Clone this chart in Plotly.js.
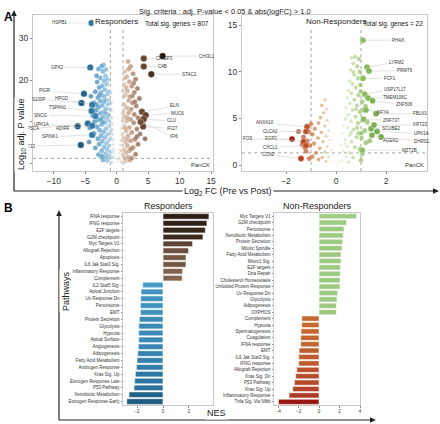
<!DOCTYPE html>
<html><head><meta charset="utf-8">
<script src="https://cdn.plot.ly/plotly-3.0.1.min.js"></script>
<style>html,body{margin:0;padding:0;background:#fff}#chart{width:440px;height:424px}</style>
</head><body><div id="chart"></div>
<script>
// ---------------- DATA ----------------
// Panel A – Responders volcano (log2FC, -log10 adj.P)
const respNS = [[-0.95,14.5],[-0.9,12.8],[-0.85,11.0],[-0.8,9.6],[-0.75,8.2],[-0.7,7.0],[-0.6,5.8],[-0.55,4.6],[-0.45,3.6],[-0.4,2.7],[-0.3,1.9],[-0.2,1.2],[-0.1,0.6],[0.0,0.2],[0.1,0.5],[0.2,1.0],[0.3,1.7],[0.4,2.5],[0.5,3.4],[0.6,4.5],[0.7,5.7],[0.8,7.0],[0.85,8.5],[0.9,10.2],[0.95,12.0],[0.98,14.0],[-0.92,6.2],[-0.7,3.0],[-0.5,1.5],[0.5,1.2],[0.75,3.2],[0.92,5.5],[-0.85,2.0],[0.88,2.2],[-1.5,0.8],[-2.2,0.9],[1.4,0.7],[2.1,0.9],[-0.97,17.0],[0.97,17.5],[-0.8,0.4],[0.7,0.5]];
const respDown = [[-2.1,23.6],[-2.4,23.3],[-2.9,22.6],[-2.2,22.1],[-1.8,21.0],[-2.6,20.5],[-2.0,19.8],[-3.1,19.5],[-1.6,19.0],[-2.3,18.6],[-2.8,18.2],[-1.9,17.7],[-3.4,17.2],[-2.5,17.0],[-1.5,16.6],[-2.1,16.1],[-3.0,15.8],[-1.8,15.3],[-2.6,15.0],[-3.6,14.6],[-1.4,14.2],[-2.3,13.9],[-2.9,13.5],[-1.7,13.1],[-3.3,12.8],[-2.0,12.5],[-2.6,12.1],[-1.3,11.8],[-3.8,11.5],[-2.2,11.2],[-1.6,10.8],[-2.9,10.5],[-3.5,10.1],[-1.9,9.8],[-2.4,9.4],[-1.2,9.1],[-3.1,8.8],[-4.3,8.6],[-1.7,8.4],[-2.7,8.0],[-2.1,7.6],[-3.6,7.3],[-1.4,7.0],[-2.5,6.7],[-1.9,6.3],[-3.0,6.0],[-1.2,5.7],[-2.3,5.4],[-1.6,5.0],[-2.8,4.7],[-1.3,4.3],[-2.0,4.0],[-3.4,3.8],[-1.5,3.4],[-2.4,3.1],[-1.1,2.8],[-1.8,2.4],[-2.9,2.2],[-1.3,1.9],[-1.6,1.6],[-2.2,1.5],[-1.1,1.4],[-3.9,13.3],[-4.1,16.1],[-3.2,21.0],[-4.4,5.2],[-2.4,1.9],[-1.2,15.2],[-1.1,13.0],[-1.3,17.3],[-1.5,20.2],[-1.2,10.2],[-1.0,7.8],[-1.4,11.5],[-1.7,22.5],[-2.7,16.4],[-3.2,14.1],[-2.2,9.9],[-3.7,12.4],[-2.0,14.8],[-1.8,12.0],[-2.5,10.6]];
const respUp = [[1.8,24.4],[2.2,23.2],[1.3,22.0],[2.6,21.5],[1.6,20.8],[3.0,20.2],[2.0,19.6],[1.2,19.0],[2.4,18.5],[3.3,18.0],[1.7,17.4],[2.8,17.0],[1.4,16.4],[2.1,16.0],[3.6,15.6],[1.9,15.1],[2.5,14.6],[1.2,14.2],[3.1,13.8],[1.6,13.4],[2.3,13.0],[4.0,12.6],[1.9,12.2],[2.8,11.8],[1.3,11.4],[3.4,11.0],[2.2,10.6],[1.6,10.2],[2.7,9.8],[4.2,9.5],[1.2,9.1],[2.0,8.7],[3.2,8.3],[1.5,7.9],[2.4,7.5],[3.7,7.1],[1.8,6.7],[1.1,6.3],[2.9,5.9],[2.2,5.5],[1.4,5.1],[3.4,4.7],[1.7,4.3],[2.6,3.9],[1.2,3.5],[2.0,3.1],[1.5,2.7],[3.0,2.3],[1.1,1.9],[1.8,1.6],[2.4,1.4],[1.3,1.3],[4.5,6.0],[3.9,10.6],[2.9,14.8],[1.1,12.5],[1.4,8.5],[1.15,16.0],[1.5,18.2],[2.5,16.2],[1.3,20.4],[1.9,22.6],[2.7,19.3],[1.0,10.8],[1.7,11.0],[2.3,3.6],[1.6,5.9],[3.2,6.5]];
const respGenes = ["HSPB1","GPX2","CHI3L1","CRISP3","C4B","STAC2","PIGR","S100P","HPGD","TSPAN1","SNCG","UPK1A","PSCA","ADIRF","SPINK1","KRT13","ELN","MUC6","CLU","IFI27","IFI6"];
const respGeneFC = [-4.0,-4.2,7.3,4.3,4.3,5.5,-5.2,-5.6,-3.9,-4.0,-3.4,-6.2,-4.6,-3.9,-3.9,-5.7,4.0,4.6,4.3,4.2,3.8];
const respGeneP  = [33.6,23.0,25.7,25.1,23.2,21.4,16.7,14.5,14.1,12.6,11.4,9.0,9.6,9.1,6.9,4.5,12.4,11.6,10.7,8.9,10.0];
const respTotal = 807;

// Panel A – Non-Responders volcano
const nonUp = [[0.63,11.5],[0.76,11.6],[0.92,11.4],[0.69,10.9],[0.85,10.6],[0.58,10.2],[0.95,10.0],[0.72,9.7],[0.88,9.3],[0.55,9.0],[0.66,8.7],[0.98,8.6],[0.79,8.3],[0.5,8.0],[0.62,7.7],[0.9,7.5],[0.45,7.2],[0.73,7.0],[1.05,6.8],[0.56,6.6],[0.84,6.4],[0.4,6.1],[0.66,5.9],[0.95,5.7],[0.5,5.4],[0.78,5.2],[0.35,4.9],[1.1,4.9],[0.6,4.7],[0.88,4.5],[0.3,4.2],[0.48,4.0],[0.7,3.8],[1.15,3.7],[0.25,3.4],[0.55,3.2],[0.82,3.0],[1.02,2.9],[0.38,2.7],[0.62,2.5],[0.2,2.2],[0.46,2.0],[0.75,1.9],[0.95,1.7],[0.3,1.5],[0.55,1.3],[0.15,1.1],[0.4,0.9],[0.68,0.8],[0.25,0.5],[0.1,0.3],[0.5,0.3],[1.05,1.2],[1.2,2.4],[1.0,0.5],[1.1,5.9],[0.99,7.9],[0.8,6.0],[0.6,3.5],[0.42,5.0],[0.9,3.4],[0.7,10.0],[0.85,4.0],[0.35,2.3],[0.96,15.2],[1.02,3.4],[1.25,4.6],[1.35,2.6],[1.18,6.3],[0.05,0.1],[0.15,0.4]];
const nonDown = [[-0.44,7.0],[-0.57,6.4],[-0.38,6.0],[-0.5,5.6],[-0.62,5.1],[-0.35,4.8],[-0.7,4.5],[-0.45,4.2],[-0.85,3.9],[-0.3,3.7],[-0.58,3.5],[-0.95,3.3],[-0.4,3.1],[-0.72,2.9],[-0.25,2.7],[-0.52,2.5],[-0.88,2.3],[-1.05,2.1],[-0.35,2.0],[-0.65,1.8],[-0.2,1.6],[-0.45,1.4],[-0.8,1.3],[-1.2,1.5],[-0.15,1.1],[-0.3,0.9],[-0.55,0.8],[-0.1,0.5],[-0.4,0.4],[-0.7,0.6],[-0.95,0.9],[-1.3,3.0],[-1.15,2.6],[-1.25,1.9],[-1.1,3.6],[-1.07,0.7],[-1.5,3.6],[-1.35,2.2],[-1.0,4.4],[-0.05,0.15]];
const nonGenes = ["PHAX","LYRM2","PRMT6","FCF1","USP17L17","TMEM106C","ZNF506","NFYA","FBLN1","ZNF737","SCUBE2","KRT23","UPK1A","AGER2","DHRS1","MZT2B","ANXA10","CLCA2","EGR1","FOS","CXCL1","CCN2"];
const nonGeneFC = [1.08,1.24,1.32,1.08,1.15,1.28,1.46,1.2,1.6,1.1,1.4,1.52,1.64,1.44,1.8,1.05,-1.16,-1.2,-1.3,-1.76,-1.2,-1.4];
const nonGeneP  = [13.4,10.5,10.1,9.3,7.6,7.2,6.9,5.9,5.5,4.9,3.9,4.3,3.6,3.2,3.0,1.6,4.1,3.6,2.5,2.8,2.1,0.7];
const nonTotal = 22;

// Panel B – GSEA hallmark NES
const respPathways = ["IFNA response","IFNG response","E2F targets","G2M checkpoint","Myc Targets V1","Allograft Rejection","Apoptosis","IL6 Jak Stat3 Sig.","Inflammatory Response","Complement","IL2 Stat5 Sig.","Apical Junction","Uv Response Dn","Peroxisome","EMT","Protein Secretion","Glycolysis","Hypoxia","Apical Surface","Angiogenesis","Adipogenesis","Fatty Acid Metabolism","Androgen Response","Kras Sig. Up","Estrogen Response Late","P53 Pathway","Xenobiotic Metabolism","Estrogen Response Early"];
const respNES = [3.54,3.38,3.26,3.08,2.28,1.97,1.77,1.77,1.51,1.48,-1.56,-1.69,-1.72,-1.74,-1.74,-1.82,-1.87,-1.87,-1.87,-1.9,-1.95,-2.0,-2.05,-2.13,-2.18,-2.23,-2.62,-2.79];
const nonPathways = ["Myc Targets V1","G2M checkpoint","Peroxisome","Xenobiotic Metabolism","Protein Secretion","Mitotic Spindle","Fatty Acid Metabolism","Mtorc1 Sig.","E2F targets","Dna Repair","Cholesterol Homeostasis","Unfolded Protein Response","Uv Response Dn","Glycolysis","Adipogenesis","OXPHOS","Complement","Hypoxia","Spermatogenesis","Coagulation","IFNA response","EMT","IL6 Jak Stat3 Sig.","IFNG response","Allograft Rejection","Kras Sig. Dn","P53 Pathway","Kras Sig. Up","Inflammatory Response","Tnfa Sig. Via Nfkb"];
const nonNES = [3.67,2.7,2.44,2.37,2.31,2.24,2.15,2.15,2.11,2.08,2.05,2.05,1.82,1.76,1.69,1.69,-1.69,-1.69,-1.76,-1.79,-1.79,-1.95,-1.98,-1.98,-2.18,-2.28,-2.41,-2.57,-2.93,-3.97];

// ---------------- STYLE (label offsets in px) ----------------
const respLabelOff = [[-32,0],[-33,0],[44,0],[21,0],[19,0],[38,0],[-39,-3],[-42,-4],[-30,-6],[-34,-4],[-54,-1],[-36,-2],[-55,5],[-29,3],[-42,2],[-53,1],[33,-6],[32,-2],[28,2],[29,2],[33,15]];
const nonLabelOff = [[35,0],[29,-5],[36,0],[27,0],[30,-5],[27,0],[32,4],[17,2],[44,0],[28,1],[20,0],[46,0],[44,2],[19,5],[41,4],[47,0],[-42,-4],[-36,0],[-32,-3],[-45,0],[-36,2],[-33,-4]];

const W=440,H=424, FONT='Liberation Sans, Arial, sans-serif';
const px=v=>v/W, py=v=>1-v/H;
const X=p=>p.map(d=>d[0]), Y=p=>p.map(d=>d[1]);
const sizeBy=(xs,lim,lo,hi)=>xs.map(v=>lo+(hi-lo)*Math.min(Math.abs(v),lim)/lim);

const csResp=[[0,'#0f3f60'],[0.2857,'#3a8bbd'],[0.3929,'#7db6d8'],[0.5,'#f3eee8'],[0.6071,'#c9a588'],[0.7143,'#8a5a3b'],[1,'#24150c']];
const csNon=[[0,'#8e140f'],[0.09,'#a3211a'],[0.27,'#c2622b'],[0.39,'#e0a868'],[0.5,'#fbf7ee'],[0.61,'#cde0aa'],[0.73,'#8fbf5f'],[1,'#5c9a3a']];

const rAllX=[...X(respNS),...X(respDown),...X(respUp)], rAllY=[...Y(respNS),...Y(respDown),...Y(respUp)];
const nAllX=[...X(nonDown),...X(nonUp)], nAllY=[...Y(nonDown),...Y(nonUp)];

const traces=[
 {type:'scatter',mode:'markers',x:rAllX,y:rAllY,xaxis:'x',yaxis:'y',hoverinfo:'skip',
  marker:{color:rAllX,colorscale:csResp,cmin:-7,cmax:7,size:sizeBy(rAllX,1.5,2,5),line:{width:0.3,color:'#fff'}}},
 {type:'scatter',mode:'markers',x:respGeneFC,y:respGeneP,xaxis:'x',yaxis:'y',hoverinfo:'skip',
  marker:{color:respGeneFC,colorscale:csResp,cmin:-7,cmax:7,size:6.5,line:{width:0.3,color:'#fff'}}},
 {type:'scatter',mode:'markers',x:nAllX,y:nAllY,xaxis:'x2',yaxis:'y2',hoverinfo:'skip',
  marker:{color:nAllX,colorscale:csNon,cmin:-2.2,cmax:2.2,size:sizeBy(nAllX,1.1,2,5.2),line:{width:0.3,color:'#fff'}}},
 {type:'scatter',mode:'markers',x:nonGeneFC,y:nonGeneP,xaxis:'x2',yaxis:'y2',hoverinfo:'skip',
  marker:{color:nonGeneFC,colorscale:csNon,cmin:-2.2,cmax:2.2,size:6,line:{width:0.3,color:'#fff'}}},
 {type:'bar',orientation:'h',x:respNES,y:respPathways,xaxis:'x3',yaxis:'y3',width:0.82,hoverinfo:'skip',
  marker:{color:respNES,cmin:-2.8,cmax:3.6,colorscale:[[0,'#1d5a7c'],[0.094,'#2b74a0'],[0.203,'#4aa1ce'],[0.4375,'#4aa1ce'],[0.4376,'#86685a'],[0.664,'#84654f'],[0.797,'#5c4232'],[0.922,'#3a2a1f'],[1,'#2a1c14']],line:{width:0.8,color:'rgba(255,255,255,0.75)'}}},
 {type:'bar',orientation:'h',x:nonNES,y:nonPathways,xaxis:'x4',yaxis:'y4',width:0.82,hoverinfo:'skip',
  marker:{color:nonNES,cmin:-4,cmax:3.7,colorscale:[[0,'#961712'],[0.143,'#ad3a26'],[0.234,'#b8502a'],[0.299,'#c46a30'],[0.519,'#c86e32'],[0.5195,'#98c47c'],[1,'#a0cd84']],line:{width:0.8,color:'rgba(255,255,255,0.75)'}}}
];

const boxAxis={showline:true,mirror:true,linecolor:'#c8c8c8',linewidth:1,showgrid:false,zeroline:false,ticks:'outside',ticklen:2,tickcolor:'#888',tickfont:{size:8.5,color:'#333'}};
const smallAxis={...boxAxis,tickfont:{size:4.5,color:'#333'},ticklen:1.5};

const ann=[];
const addGeneLabels=(genes,fx,fy,off,xr,yr)=>genes.forEach((g,i)=>ann.push({xref:xr,yref:yr,x:fx[i],y:fy[i],text:g,showarrow:true,ax:off[i][0],ay:off[i][1],arrowhead:0,arrowwidth:0.5,arrowcolor:'#c4c4c4',standoff:3,font:{size:4.5,color:'#333'}}));
addGeneLabels(respGenes,respGeneFC,respGeneP,respLabelOff,'x','y');
addGeneLabels(nonGenes,nonGeneFC,nonGeneP,nonLabelOff,'x2','y2');

const lbl=(t,x,y,o)=>Object.assign({xref:'paper',yref:'paper',x:px(x),y:py(y),text:t,showarrow:false,font:{size:9,color:'#222'},bgcolor:'#fff',borderpad:1},o||{});
ann.push(
 lbl('Log<sub>10</sub> adj. P value',14,97,{textangle:-90}),
 lbl('Log<sub>2</sub> FC (Pre vs Post)',228,191),
 lbl('Pathways',59,313,{textangle:-90}),
 lbl('NES',216,420),
 lbl('<b>A</b>',2,8,{xanchor:'left',font:{size:12,color:'#000'},bgcolor:'rgba(0,0,0,0)'}),
 lbl('<b>B</b>',2,208,{xanchor:'left',font:{size:12,color:'#000'},bgcolor:'rgba(0,0,0,0)'}),
 lbl('Sig. criteria : adj. P-value &lt; 0.05 &amp; abs(logFC) &gt; 1.0',225,5,{font:{size:7.5,color:'#222'},bgcolor:'rgba(0,0,0,0)'}),
 {xref:'x',yref:'paper',x:0,y:py(15),text:'Responders',showarrow:false,font:{size:8,color:'#222'},bgcolor:'#fff',borderpad:1},
 {xref:'x2',yref:'paper',x:0,y:py(15),text:'Non-Responders',showarrow:false,font:{size:8,color:'#222'},bgcolor:'#fff',borderpad:1},
 {xref:'x domain',yref:'y domain',x:1,y:1,xanchor:'right',yanchor:'top',xshift:-2,yshift:-3,text:'Total sig. genes = '+respTotal,showarrow:false,font:{size:6.5,color:'#111'}},
 {xref:'x2 domain',yref:'y2 domain',x:1,y:1,xanchor:'right',yanchor:'top',xshift:-2,yshift:-3,text:'Total sig. genes = '+nonTotal,showarrow:false,font:{size:6.5,color:'#111'}},
 {xref:'x domain',yref:'y domain',x:1,y:0,xanchor:'right',yanchor:'bottom',xshift:-1,yshift:1,text:'PanCK',showarrow:false,font:{size:6,color:'#333'}},
 {xref:'x2 domain',yref:'y2 domain',x:1,y:0,xanchor:'right',yanchor:'bottom',xshift:-1,yshift:1,text:'PanCK',showarrow:false,font:{size:6,color:'#333'}},
 {xref:'x3 domain',yref:'paper',x:0.5,y:py(206),text:'Responders',showarrow:false,font:{size:9,color:'#222'}},
 {xref:'x4 domain',yref:'paper',x:0.5,y:py(206),text:'Non-Responders',showarrow:false,font:{size:9,color:'#222'}}
);

const dash={color:'#9a9a9a',width:0.9,dash:'dot'};
const shapes=[];
[['x','y'],['x2','y2']].forEach(([xa,ya])=>{
  [-1,1].forEach(v=>shapes.push({type:'line',xref:xa,yref:ya+' domain',x0:v,x1:v,y0:0,y1:1,line:dash,layer:'below'}));
  shapes.push({type:'line',xref:xa+' domain',yref:ya,x0:0,x1:1,y0:1.3,y1:1.3,line:dash,layer:'below'});
});
// L-shaped figure axes with arrowheads (paper coords, drawn as shapes)
const axLine={color:'#222',width:1.2};
const seg=(x0,y0,x1,y1)=>({type:'line',xref:'paper',yref:'paper',x0:px(x0),y0:py(y0),x1:px(x1),y1:py(y1),line:axLine,layer:'below'});
const head=(tx,ty,dir)=>{const p=dir==='up'?[[tx,ty],[tx-2.8,ty+6],[tx+2.8,ty+6]]:[[tx,ty],[tx-6,ty-2.8],[tx-6,ty+2.8]];
  return {type:'path',xref:'paper',yref:'paper',path:'M'+p.map(q=>px(q[0])+','+py(q[1])).join(' L')+' Z',fillcolor:'#222',line:{width:0},layer:'below'};};
shapes.push(seg(14,191,14,15),head(14,10,'up'),seg(14,191,434,191),head(439,191,'right'),
            seg(59,420,59,215),head(59,210,'up'),seg(59,420,371,420),head(376,420,'right'));

const layout={
 width:W,height:H,margin:{l:0,r:0,t:0,b:0},paper_bgcolor:'#fff',plot_bgcolor:'rgba(0,0,0,0)',showlegend:false,
 font:{family:FONT,color:'#222'},bargap:0.18,
 xaxis:{...boxAxis,domain:[px(33),px(213)],range:[-13.3,15.3],tickvals:[-10,-5,0,5,10,15],anchor:'y'},
 yaxis:{...boxAxis,domain:[py(171),py(15)],range:[-1.7,35.5],tickvals:[0,10,20,30],anchor:'x'},
 xaxis2:{...boxAxis,domain:[px(242),px(427)],range:[-3.76,3.64],tickvals:[-2,0,2],anchor:'y2'},
 yaxis2:{...boxAxis,domain:[py(171),py(15)],range:[-0.64,16.1],tickvals:[0,5,10,15],anchor:'x2'},
 xaxis3:{...smallAxis,domain:[px(123),px(213)],range:[-3.08,3.85],tickvals:[-2,0,2],anchor:'y3'},
 yaxis3:{...smallAxis,domain:[py(405),py(213)],type:'category',autorange:'reversed',anchor:'x3'},
 xaxis4:{...smallAxis,domain:[px(274),px(360)],range:[-4.4,4.0],tickvals:[-4,-2,0,2,4],anchor:'y4'},
 yaxis4:{...smallAxis,domain:[py(405),py(213)],type:'category',autorange:'reversed',anchor:'x4'},
 annotations:ann,shapes:shapes
};
Plotly.newPlot('chart',traces,layout,{staticPlot:true,displayModeBar:false});
</script></body></html>
